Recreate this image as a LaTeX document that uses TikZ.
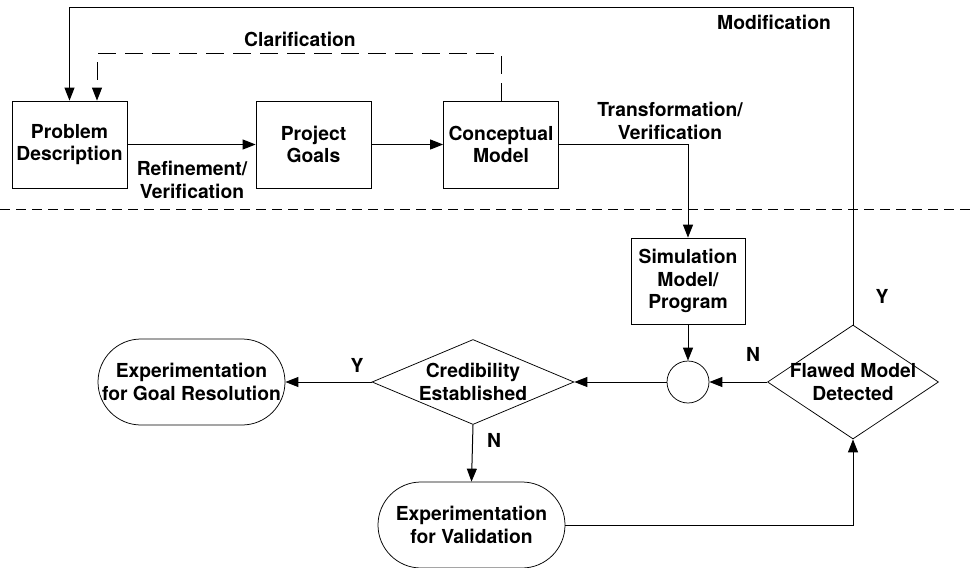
\documentclass[tikz,border=0pt]{standalone}
\usepackage{fontspec}
\setmainfont{TeX Gyre Heros}
\usetikzlibrary{shapes.geometric,arrows.meta}

\begin{document}
\begin{tikzpicture}[x=1pt, y=-1pt, line width=1pt,
  font=\fontsize{19.3}{22.8}\selectfont\bfseries,
  >={Triangle[length=13pt,width=10pt]},
  box/.style={draw, line width=.75pt, align=center, inner sep=0pt, minimum width=115pt, minimum height=87pt},
  decision/.style={draw, line width=.75pt, diamond, inner sep=0pt},
  terminal/.style={draw, line width=.75pt, align=center, inner sep=0pt, rounded corners=43pt, minimum width=187pt, minimum height=86pt},
  junction/.style={draw, line width=.75pt, circle, minimum size=42pt, inner sep=0pt},
  txt/.style={align=center, inner sep=0pt}]
\useasboundingbox (0,0) rectangle (973,567);

% upper part: from problem to model
\node[box] (pd) at (69.5,144.5) {Problem\\Description};
\node[box] (pg) at (313.5,144.5) {Project\\Goals};
\node[box] (cm) at (501,144.5) {Conceptual\\Model};
\draw[dashed, dash pattern=on 10pt off 6pt, line width=.75pt] (0,209) -- (973,209);

% lower part: program and checks
\node[box, minimum width=114pt, minimum height=86pt] (sim) at (688,281) {Simulation\\Model/\\Program};
\node[junction] (jn) at (688,382) {};
\node[decision, minimum width=171pt, minimum height=114pt,
      label={[txt]center:Flawed Model\\Detected}] (fm) at (853,382) {};
\node[decision, minimum width=202pt, minimum height=85pt,
      label={[txt]center:Credibility\\Established}] (cr) at (473,382) {};
\node[terminal] (goal) at (191.5,382) {Experimentation\\for Goal Resolution};
\node[terminal] (val) at (471.5,525) {Experimentation\\for Validation};

\coordinate (top) at (0,8);
\coordinate (clar) at (0,54);

\draw[->] (pd) -- (pg);
\draw[->] (pg) -- (cm);
\draw[->] (cm.east) -| (sim.north);
\draw[->] (sim) -- (jn);
\draw[->] (fm.west) -- (jn.east);
\draw[->] (jn.west) -- (cr.east);
\draw[->] (cr.west) -- (goal.east);
\draw[->] (cr.south) -- (val.north);
\draw[->] (val.east) -| (fm.south);
\draw[->] (fm.north) -- (fm.north |- top) -| (pd.north);
\draw[->, dashed, dash pattern=on 18pt off 9pt] (cm.north) -- (cm.north |- clar) -| ([xshift=27.5pt]pd.north);

% edge labels
\node[txt] (lclar) at (300,39) {Clarification};
\node[txt] (lmod) at (774,22) {Modification};
\node[txt] (lref) at (192,180) {Refinement/\\Verification};
\node[txt] (ltrans) at (670,121) {Transformation/\\Verification};
\node[txt] (ly1) at (882,296) {Y};
\node[txt] (ln1) at (753,354) {N};
\node[txt] (ly2) at (357,365) {Y};
\node[txt] (ln2) at (494,440) {N};
\end{tikzpicture}
\end{document}
